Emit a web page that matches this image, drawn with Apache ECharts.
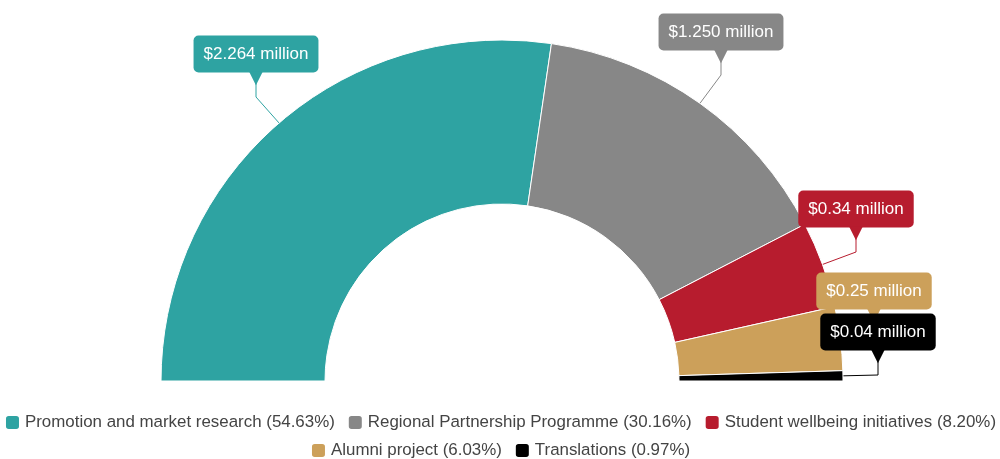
<!DOCTYPE html>
<html>
<head>
<meta charset="utf-8">
<style>
  html, body { margin: 0; padding: 0; background: #fff; }
  #chart { width: 1000px; height: 459px; }
</style>
<script src="https://cdn.jsdelivr.net/npm/echarts@6/dist/echarts.min.js"></script>
</head>
<body>
<div id="chart"></div>
<script>
// Budget split, amounts in $ million
const categories = [
  'Promotion and market research',
  'Regional Partnership Programme',
  'Student wellbeing initiatives',
  'Alumni project',
  'Translations'
];
const amountLabels = ['2.264', '1.250', '0.34', '0.25', '0.04'];
const amounts = amountLabels.map(Number);

const colors = ['#2ea3a2', '#878787', '#b71c2e', '#cca05a', '#000000'];

// Callout box placement (centre x, top y) for each value tag
const calloutSpots = [[256, 35], [721, 13], [856, 190], [874, 272], [878, 313]];

// Callout box metrics
const TEXT_LINE = 18;   // text line height inside the box
const BOX_PAD = 10;     // vertical padding of the box
const PTR_H = 10;       // height of the pointer under the box
const STEM = 15;        // vertical stem of the leader line

const total = amounts.reduce((a, b) => a + b, 0);
const shareOf = {};
categories.forEach((c, i) => { shareOf[c] = (amounts[i] / total * 100).toFixed(2); });

const rich = {};
colors.forEach((col, i) => {
  rich['b' + i] = {
    backgroundColor: col,
    color: '#fff',
    fontFamily: 'Liberation Sans',
    fontSize: 17,
    lineHeight: TEXT_LINE,
    padding: [BOX_PAD, 10, BOX_PAD, 10],
    borderRadius: 5,
    align: 'center'
  };
  // downward pointer right under the box
  rich['p' + i] = {
    color: col,
    fontFamily: 'DejaVu Sans',
    fontSize: 18,
    lineHeight: 2 * (BOX_PAD + PTR_H / 2),
    align: 'center'
  };
});

const chart = echarts.init(document.getElementById('chart'), null, { renderer: 'canvas' });

const legendCommon = {
  orient: 'horizontal',
  left: 'center',
  padding: 0,
  itemWidth: 15,
  itemHeight: 15,
  itemGap: 12,
  icon: 'roundRect',
  selectedMode: false,
  formatter: name => name + ' (' + shareOf[name] + '%)',
  textStyle: {
    fontFamily: 'Liberation Sans',
    fontSize: 16.9,
    lineHeight: 16,
    color: '#444'
  }
};

chart.setOption({
  animation: false,
  color: colors,
  legend: [
    Object.assign({}, legendCommon, { top: 414, data: categories.slice(0, 3) }),
    Object.assign({}, legendCommon, { top: 442, data: categories.slice(3) })
  ],
  series: [{
    type: 'pie',
    center: [502, 381],
    radius: [177, 341],
    startAngle: 180,
    endAngle: 0,
    clockwise: true,
    avoidLabelOverlap: false,
    itemStyle: { borderColor: '#fff', borderWidth: 1 },
    emphasis: { disabled: true },
    label: {
      show: true,
      position: 'outside',
      formatter: p => '{b' + p.dataIndex + '|$' + amountLabels[p.dataIndex] + ' million}\n{p' + p.dataIndex + '|▼}',
      rich: rich
    },
    labelLine: {
      show: true,
      length: 15,
      length2: 15,
      lineStyle: { width: 1 }
    },
    labelLayout: function (p) {
      const spot = calloutSpots[p.dataIndex];
      const tipY = spot[1] + TEXT_LINE + 2 * BOX_PAD + PTR_H - 1;
      const start = p.labelLinePoints ? p.labelLinePoints[0] : [spot[0], tipY + STEM];
      return {
        x: spot[0],
        y: spot[1] + BOX_PAD,
        align: 'center',
        verticalAlign: 'top',
        labelLinePoints: [start, [spot[0], tipY + STEM], [spot[0], tipY]]
      };
    },
    data: categories.map((name, i) => ({ name: name, value: amounts[i] }))
  }]
});
</script>
</body>
</html>
